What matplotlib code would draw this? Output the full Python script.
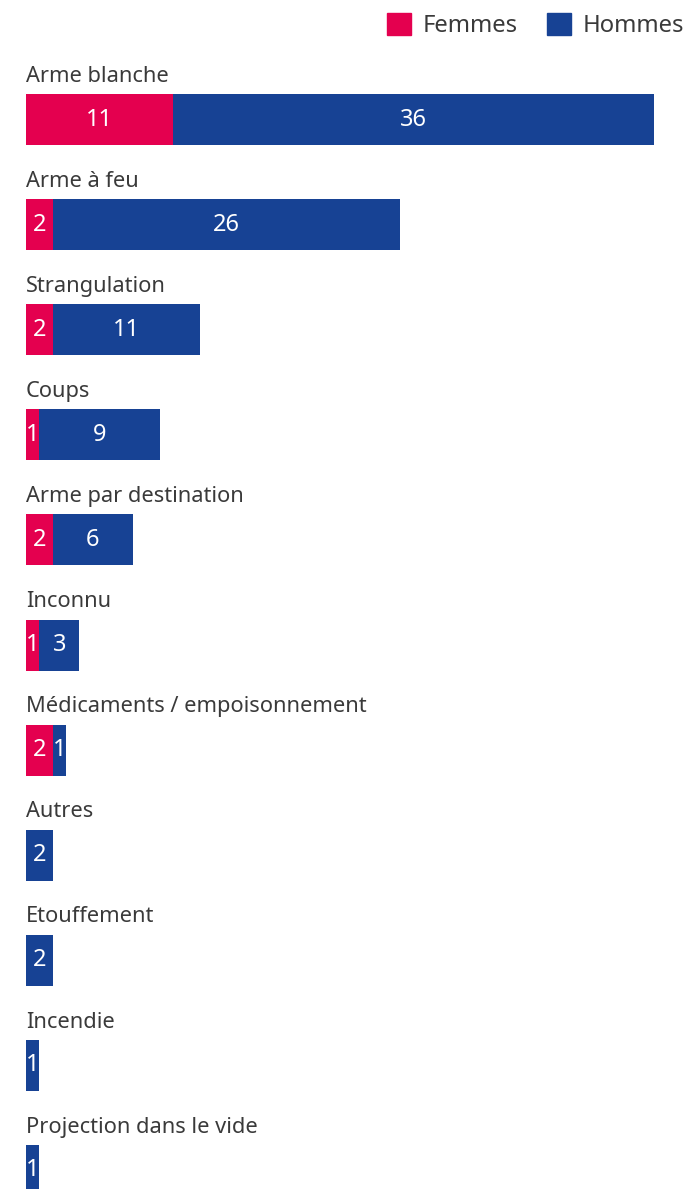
import matplotlib.pyplot as plt
from matplotlib.patches import Patch

categories = ["Arme blanche", "Arme à feu", "Strangulation", "Coups",
              "Arme par destination", "Inconnu", "Médicaments / empoisonnement",
              "Autres", "Etouffement", "Incendie", "Projection dans le vide"]
femmes = [11, 2, 2, 1, 2, 1, 2, 0, 0, 0, 0]
hommes = [36, 26, 11, 9, 6, 3, 1, 2, 2, 1, 1]

pink = "#E4004F"
blue = "#174294"
text_col = "#3a3a3a"

plt.rcParams['font.family'] = ['Noto Sans', 'DejaVu Sans']

W, H = 687, 1189
fig = plt.figure(figsize=(W / 100, H / 100), dpi=100)
# x: 0 at px 26, 47 at px 654 ; y: full height
ax = fig.add_axes([26 / W, 0, (654 - 26) / W, 1])
ax.set_xlim(0, 47)
row = 105.1
ax.set_ylim((H - 119.5) / row, -119.5 / row)
ax.axis("off")

bh = 51 / row
ys = range(len(categories))
ax.barh(ys, femmes, height=bh, color=pink, label="Femmes")
ax.barh(ys, hommes, left=femmes, height=bh, color=blue, label="Hommes")

for i, cat in enumerate(categories):
    ax.text(0, i - bh / 2 - 0.17, cat, ha="left", va="center",
            fontsize=15.7, color=text_col)
    if femmes[i]:
        ax.text(femmes[i] / 2, i, str(femmes[i]), ha="center", va="center",
                fontsize=17, color="white")
    if hommes[i]:
        ax.text(femmes[i] + hommes[i] / 2, i, str(hommes[i]), ha="center",
                va="center", fontsize=17, color="white")

handles = [Patch(color=pink, label="Femmes"), Patch(color=blue, label="Hommes")]
fig.legend(handles=handles, loc="upper right", bbox_to_anchor=(1.015, 1.0),
           ncol=2, frameon=False, fontsize=17.2, handlelength=1.0,
           handleheight=1.0, handletextpad=0.5, columnspacing=1.2,
           labelcolor=text_col, borderaxespad=0.15)

fig.savefig("out.png", dpi=100)
